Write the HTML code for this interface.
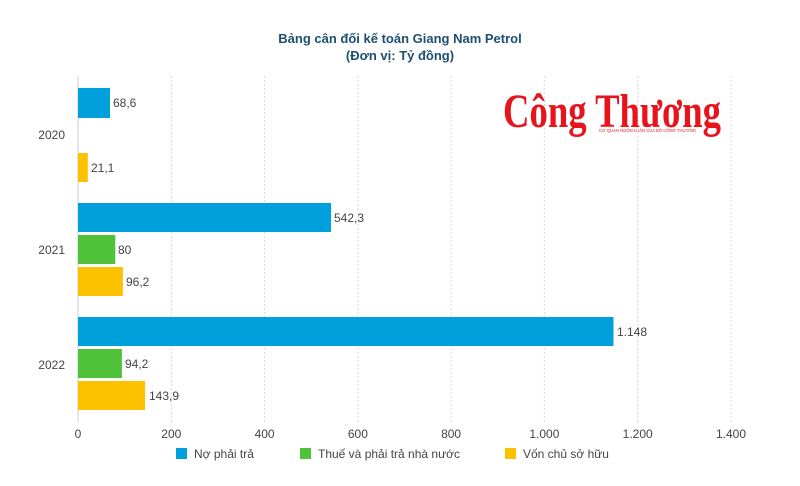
<!DOCTYPE html>
<html><head><meta charset="utf-8"><style>
body{margin:0;background:#fff;width:800px;height:481px;overflow:hidden;font-family:"Liberation Sans",sans-serif;}
</style></head><body>
<svg width="800" height="481" xmlns="http://www.w3.org/2000/svg" font-family="Liberation Sans, sans-serif">
<text x="400" y="43" text-anchor="middle" font-size="13" font-weight="bold" fill="#1d4f73">Bảng cân đối kế toán Giang Nam Petrol</text>
<text x="400" y="60" text-anchor="middle" font-size="13" font-weight="bold" fill="#1d4f73">(Đơn vị: Tỷ đồng)</text>
<g stroke="#d8d8d8" stroke-dasharray="2,2" stroke-width="1">
<line x1="171.3" y1="76" x2="171.3" y2="422"/><line x1="264.6" y1="76" x2="264.6" y2="422"/>
<line x1="357.9" y1="76" x2="357.9" y2="422"/><line x1="451.1" y1="76" x2="451.1" y2="422"/>
<line x1="544.4" y1="76" x2="544.4" y2="422"/><line x1="637.7" y1="76" x2="637.7" y2="422"/>
<line x1="731" y1="76" x2="731" y2="422"/>
</g>
<line x1="78" y1="76" x2="78" y2="422" stroke="#ccc"/>
<text x="503" y="127" font-family="Liberation Serif, serif" font-weight="bold" font-size="48" fill="#e8141b" textLength="218" lengthAdjust="spacingAndGlyphs">Công Thương</text>
<rect x="598" y="127" width="72" height="6" fill="#fff"/>
<text x="599" y="132" font-size="4.5" fill="#e8141b" textLength="97" lengthAdjust="spacingAndGlyphs">CƠ QUAN NGÔN LUẬN CỦA BỘ CÔNG THƯƠNG</text>
<g font-size="12" fill="#444">
<rect x="78" y="88" width="32" height="30" fill="#00a0dc"/><text x="113" y="107">68,6</text>
<rect x="78" y="153" width="9.8" height="29" fill="#fcc200"/><text x="91" y="172">21,1</text>
<rect x="78" y="203" width="253" height="29" fill="#00a0dc"/><text x="334" y="222">542,3</text>
<rect x="78" y="235" width="37.3" height="29" fill="#4fc23a"/><text x="118" y="254">80</text>
<rect x="78" y="267" width="44.9" height="29" fill="#fcc200"/><text x="126" y="286">96,2</text>
<rect x="78" y="317" width="535.5" height="29" fill="#00a0dc"/><text x="617" y="336">1.148</text>
<rect x="78" y="349" width="43.9" height="29" fill="#4fc23a"/><text x="125" y="368">94,2</text>
<rect x="78" y="381" width="67.1" height="29" fill="#fcc200"/><text x="149" y="400">143,9</text>
</g>
<g font-size="12" fill="#444" text-anchor="end">
<text x="65" y="139">2020</text><text x="65" y="254">2021</text><text x="65" y="369">2022</text>
</g>
<g font-size="12" fill="#444" text-anchor="middle">
<text x="78" y="438">0</text><text x="171.3" y="438">200</text><text x="264.6" y="438">400</text>
<text x="357.9" y="438">600</text><text x="451.1" y="438">800</text><text x="544.4" y="438">1.000</text>
<text x="637.7" y="438">1.200</text><text x="731" y="438">1.400</text>
</g>
<g font-size="12" fill="#444">
<rect x="176" y="448" width="11" height="11" fill="#00a0dc"/><text x="194" y="458">Nợ phải trả</text>
<rect x="300" y="448" width="11" height="11" fill="#4fc23a"/><text x="318" y="458">Thuế và phải trả nhà nước</text>
<rect x="505" y="448" width="11" height="11" fill="#fcc200"/><text x="523" y="458">Vốn chủ sở hữu</text>
</g>
</svg>
</body></html>
